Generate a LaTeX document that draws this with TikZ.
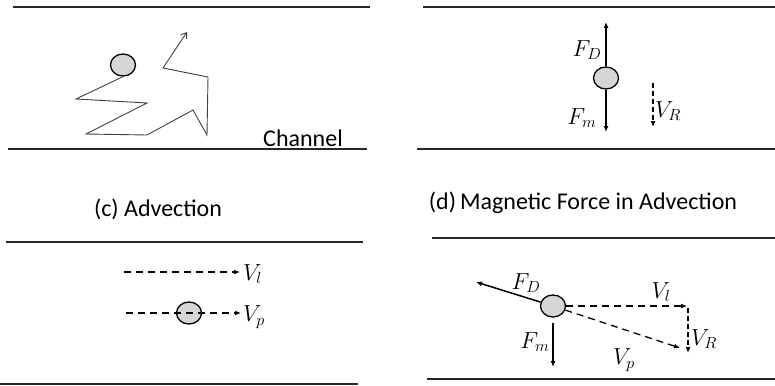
\documentclass[tikz,border=0pt]{standalone}
\usepackage{fontspec}
\setmainfont{Carlito}
\usetikzlibrary{arrows.meta,shapes.geometric}
\begin{document}
\begin{tikzpicture}[x=1pt,y=-1pt,
  wall/.style={line width=2pt, draw=black!85},
  particle/.style={ellipse, draw, line width=1.3pt, fill=black!16, minimum width=25pt, minimum height=22pt, inner sep=0pt},
  force/.style={line width=1.5pt, -{Latex[length=6pt,width=5pt]}},
  vel/.style={line width=1.3pt, dash pattern=on 7pt off 5pt, -{Latex[length=6pt,width=5pt]}},
  lbl/.style={font=\fontsize{24}{28}\selectfont, inner sep=0pt},
  mlbl/.style={font=\fontsize{20.74}{25}\selectfont, scale=1.12, inner sep=0pt},
  walk/.style={line width=0.9pt, draw=black!75}]
\useasboundingbox (0,0) rectangle (775,385);

% ---------- panel (a) ----------
\draw[wall] (13,7) -- (370,7);
\draw[wall] (8,149) -- (367,149);
\node[particle] (pa) at (123,65) {};
\coordinate (w1) at (76,99);
\coordinate (w2) at (147,103);
\coordinate (w3) at (86,134);
\coordinate (w4) at (147,135);
\coordinate (w5) at (193,110);
\coordinate (w6) at (207,135);
\coordinate (w7) at (208,77);
\coordinate (w8) at (163,68);
\coordinate (w9) at (187,32);
\draw[walk, -{Straight Barb[length=5pt,width=7pt]}] (pa.south) -- (w1) -- (w2) -- (w3) -- (w4) -- (w5) -- (w6) -- (w7) -- (w8) -- (w9);
\node[lbl, anchor=base] (chan) at (303,146) {Channel};

% ---------- panel (b) ----------
\draw[wall] (423,7) -- (775,7);
\draw[wall] (417,149) -- (775,149);
\node[particle] (pb) at (606,78) {};
\coordinate (fdb) at (606,22);
\coordinate (fmb) at (606,132);
\draw[force] (pb) -- (fdb);
\draw[force] (pb) -- (fmb);
\node[mlbl] (lfdb) at (587,50) {$F_D$};
\node[mlbl] (lfmb) at (582,118) {$F_m$};
\coordinate (vrb1) at (653,83);
\coordinate (vrb2) at (653,127);
\draw[vel, dash pattern=on 5pt off 3pt] (vrb1) -- (vrb2);
\node[mlbl, anchor=west] (lvrb) at (655,111) {$V_R$};

% ---------- panel (c) ----------
\node[lbl] (tc) at (158,209) {(c) Advection};
\draw[wall] (6,242) -- (363,242);
\draw[wall] (0,384) -- (358,384);
\coordinate (vlc1) at (124,272);
\coordinate (vlc2) at (240,272);
\draw[vel] (vlc1) -- (vlc2);
\node[mlbl, anchor=west] (lvlc) at (243,274) {$V_l$};
\node[particle] (pc) at (189,313) {};
\coordinate (vpc1) at (126,313);
\coordinate (vpc2) at (241,313);
\draw[vel] (vpc1) -- (vpc2);
\node[mlbl, anchor=west] (lvpc) at (243,317) {$V_p$};

% ---------- panel (d) ----------
\node[lbl] (td) at (583,203) {(d)\,Magnetic Force in Advection};
\draw[wall] (432,238) -- (775,238);
\draw[wall] (427,379) -- (775,379);
\node[particle] (pd) at (553,306) {};
\coordinate (fdd) at (476,282);
\draw[force] (pd) -- (fdd);
\node[mlbl] (lfdd) at (526,283) {$F_D$};
\coordinate (vld) at (687,306);
\draw[vel] (pd) -- (vld);
\node[mlbl] (lvld) at (661,292) {$V_l$};
\coordinate (vrd1) at (688,308);
\coordinate (vrd2) at (688,353);
\draw[vel, dash pattern=on 5pt off 3pt] (vrd1) -- (vrd2);
\node[mlbl, anchor=west] (lvrd) at (691,339) {$V_R$};
\coordinate (vpd) at (680,348);
\draw[vel] (pd) -- (vpd);
\node[mlbl] (lvpd) at (624,360) {$V_p$};
\coordinate (fmd1) at (553,323);
\coordinate (fmd2) at (553,367);
\draw[force] (fmd1) -- (fmd2);
\node[mlbl] (lfmd) at (535,342) {$F_m$};
\end{tikzpicture}
\end{document}
